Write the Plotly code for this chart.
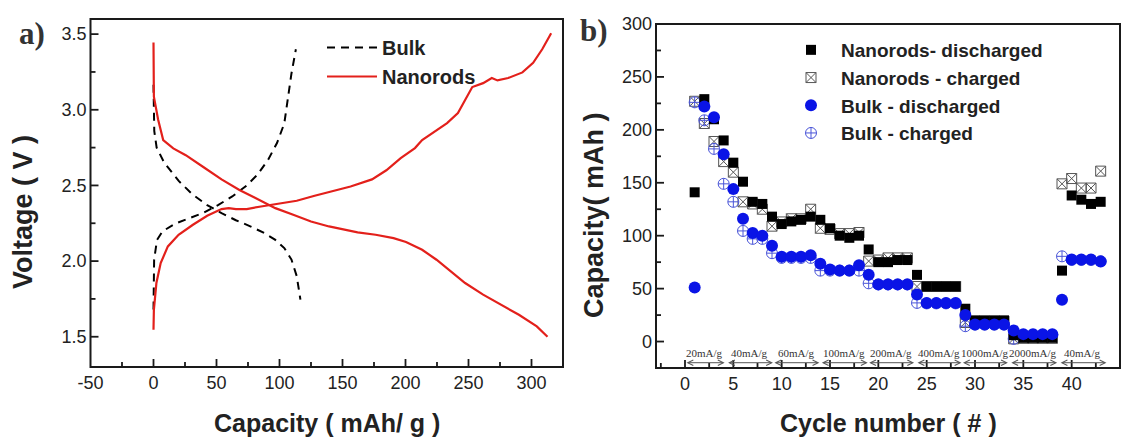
import plotly.graph_objects as go

# ---------------- Panel a data: voltage profiles ----------------
bulk_dis_cap = [0, 0.2, 0.6, 2.5, 8.5, 20, 31, 42.6, 54, 65.4, 76.8, 88, 96.7, 103.8, 109.5, 113.7, 116.6]
bulk_dis_v = [3.165, 3.0, 2.86, 2.75, 2.65, 2.53, 2.44, 2.37, 2.317, 2.27, 2.23, 2.185, 2.14, 2.086, 2.01, 1.90, 1.745]
bulk_chg_cap = [0, 0.5, 2.8, 7.1, 17, 28.4, 39.8, 51.2, 62.5, 74, 82.4, 91, 98, 103.8, 106.6, 109.5, 113]
bulk_chg_v = [1.68, 2.01, 2.14, 2.196, 2.247, 2.284, 2.32, 2.37, 2.427, 2.50, 2.57, 2.67, 2.78, 2.91, 3.066, 3.24, 3.40]

nano_dis_cap = [0, 0.3, 3.7, 7.7, 15.7, 25.6, 39.8, 54, 68.2, 82.4, 96.7, 110.9, 125, 139.3, 150.7, 162,
                176.3, 190.5, 200.4, 213.2, 224.6, 236, 247.3, 261.6, 275.8, 290, 304.2, 312.7]
nano_dis_v = [3.445, 3.087, 2.934, 2.80, 2.745, 2.70, 2.62, 2.54, 2.47, 2.41, 2.35, 2.306, 2.262, 2.229, 2.207, 2.19,
              2.174, 2.152, 2.126, 2.075, 2.009, 1.932, 1.855, 1.778, 1.711, 1.645, 1.568, 1.50]
nano_chg_cap = [0, 0.3, 2.3, 5.7, 11.4, 19.9, 31.3, 42.6, 54, 59.7, 65.4, 74, 85.3, 99.5, 113.7, 127.9, 142, 156.4,
                173.4, 184.8, 196.2, 207.5, 213.2, 221.7, 233, 241.6, 247.3, 253, 261.6, 266.7, 268.5, 273, 281.5,
                292.8, 301.3, 308.5, 315.6]
nano_chg_v = [1.546, 1.678, 1.855, 1.987, 2.097, 2.174, 2.24, 2.30, 2.344, 2.35, 2.344, 2.344, 2.361, 2.379, 2.399,
              2.432, 2.46, 2.493, 2.54, 2.60, 2.68, 2.747, 2.80, 2.85, 2.912, 2.978, 3.066, 3.15, 3.176, 3.198, 3.21,
              3.194, 3.21, 3.247, 3.31, 3.40, 3.506]

# tick values / labels, panel a
cap_ticks = [-50, 0, 50, 100, 150, 200, 250, 300]
cap_tick_text = ["-50", "0", "50", "100", "150", "200", "250", "300"]
cap_minor = [-25, 25, 75, 125, 175, 225, 275]
volt_ticks = [1.5, 2.0, 2.5, 3.0, 3.5]
volt_minor = [1.75, 2.25, 2.75, 3.25]

# ---------------- Panel b data: rate capability ----------------
cycles = list(range(1, 44))
nano_discharged = [141, 229, 210, 190, 169, 151, 132, 130, 118, 111, 113.5, 115, 118, 115, 107, 100, 98, 100, 87,
                   75, 75, 77, 77, 63, 52, 52, 52, 52, 31, 20, 20, 20, 20, 6, 3.5, 3.5, 3.5, 3.5, 67, 138, 134, 130, 132]
nano_charged = [227, 206, 189, 170, 160, 132, 130, 125, 109, 113, 116, 116, 125, 107, 106, 102, 102, 103, 76,
                77, 79, 79, 79, 52, 52, 52, 52, 52, 18, 19, 19, 19, 19, 2.5, 3, 3, 3, 3, 149, 154, 145, 145, 161]
bulk_discharged = [51, 222, 212, 177, 144, 116, 102.5, 100, 90.5, 80, 80, 80, 81.5, 73.5, 68, 67, 67, 72, 63,
                   54, 54, 54, 54, 44.5, 36.5, 36.5, 36.5, 36.5, 25, 16, 16, 16, 16, 10.5, 7, 7, 7, 7, 39.5, 77.5, 77.5, 77.5, 75.5]
bulk_charged = [226, 209, 182, 149, 132, 104.5, 97, 97, 83.5, 79, 79, 79, 79, 67, 67, 67, 67, 67, 55,
                54, 54, 54, 54, 36.5, 36, 36, 36, 36, 14.5, 16, 16, 16, 16, 2.5, 6, 6, 6, 6, 80.5, 77, 77, 77, 76]

cycle_ticks = [0, 5, 10, 15, 20, 25, 30, 35, 40, 45]
cycle_minor = [-2.5, 2.5, 7.5, 12.5, 17.5, 22.5, 27.5, 32.5, 37.5, 42.5]
capb_ticks = [0, 50, 100, 150, 200, 250, 300]
capb_minor = [25, 75, 125, 175, 225, 275]

rate_labels = ["20mA/g", "40mA/g", "60mA/g", "100mA/g", "200mA/g", "400mA/g", "1000mA/g", "2000mA/g", "40mA/g"]
rate_start = [0, 4.3, 9.1, 14.0, 18.9, 23.9, 28.6, 33.6, 38.7]
rate_end = [4.1, 9.1, 13.9, 18.9, 23.7, 28.6, 33.4, 38.5, 43.6]

FONT = "Liberation Sans, Arial, sans-serif"
SERIF = "Liberation Serif, Times New Roman, serif"
W, H = 1129, 437
AX = "#1a1a1a"

# subplot boxes (paper fractions)
A_X = [90.5 / W, 563 / W]
A_Y = [1 - 367 / H, 1 - 19 / H]
B_X = [656 / W, 1120 / W]
B_Y = [1 - 368 / H, 1 - 24 / H]

fig = go.Figure()

fig.add_trace(go.Scatter(
    x=bulk_dis_cap + [None] + bulk_chg_cap, y=bulk_dis_v + [None] + bulk_chg_v,
    mode="lines", name="Bulk", line=dict(color="black", width=2, dash="8px,6px"),
    xaxis="x", yaxis="y", legend="legend", connectgaps=False))
fig.add_trace(go.Scatter(
    x=nano_dis_cap + [None] + nano_chg_cap, y=nano_dis_v + [None] + nano_chg_v,
    mode="lines", name="Nanorods", line=dict(color="#e3201b", width=2.2),
    xaxis="x", yaxis="y", legend="legend", connectgaps=False))

fig.add_trace(go.Scatter(
    x=cycles, y=nano_charged, mode="markers", name="Nanorods - charged",
    marker=dict(symbol="square-x-open", size=10, color="#555555", line=dict(width=1)),
    xaxis="x2", yaxis="y2", legend="legend2", legendrank=2))
fig.add_trace(go.Scatter(
    x=cycles, y=bulk_charged, mode="markers", name="Bulk - charged",
    marker=dict(symbol="circle-cross-open", size=11, color="#4a55d8", line=dict(width=1)),
    xaxis="x2", yaxis="y2", legend="legend2", legendrank=4))
fig.add_trace(go.Scatter(
    x=cycles, y=nano_discharged, mode="markers", name="Nanorods- discharged",
    marker=dict(symbol="square", size=10, color="black"),
    xaxis="x2", yaxis="y2", legend="legend2", legendrank=1))
fig.add_trace(go.Scatter(
    x=cycles, y=bulk_discharged, mode="markers", name="Bulk - discharged",
    marker=dict(symbol="circle", size=12, color="#0a14e6"),
    xaxis="x2", yaxis="y2", legend="legend2", legendrank=3))

axis_common = dict(showline=False, mirror=False, showgrid=False, zeroline=False, ticks="",
                   tickfont=dict(family=FONT, size=18, color="#222"),
                   tickprefix="<b>", ticksuffix="</b>", automargin=False, ticklabelstandoff=3)

# ---- frame (paper coords) and tick marks (axis coords along, paper across) ----
shapes = []
def frame(bx, by):
    shapes.append(dict(type="rect", xref="paper", yref="paper", x0=bx[0], x1=bx[1], y0=by[0], y1=by[1],
                       line=dict(color=AX, width=2), fillcolor="rgba(0,0,0,0)", layer="above"))

def xticks(xa, by, vals, length, lo, hi):
    for v in vals:
        if lo < v < hi:
            shapes.append(dict(type="line", xref=xa, yref="paper", x0=v, x1=v,
                               y0=by[0], y1=by[0] + length / H,
                               line=dict(color=AX, width=1.8), layer="above"))

def yticks(ya, bx, vals, length, lo, hi):
    for v in vals:
        if lo < v < hi:
            shapes.append(dict(type="line", yref=ya, xref="paper", y0=v, y1=v,
                               x0=bx[0], x1=bx[0] + length / W,
                               line=dict(color=AX, width=1.8), layer="above"))

frame(A_X, A_Y)
xticks("x", A_Y, cap_ticks, 8, -50, 325)
xticks("x", A_Y, cap_minor, 5, -50, 325)
yticks("y", A_X, volt_ticks, 8, 1.3, 3.6)
yticks("y", A_X, volt_minor, 5, 1.3, 3.6)
frame(B_X, B_Y)
xticks("x2", B_Y, cycle_ticks, 8, -3, 45)
xticks("x2", B_Y, cycle_minor, 5, -3, 45)
yticks("y2", B_X, capb_ticks, 8, -25, 300)
yticks("y2", B_X, capb_minor, 5, -25, 300)

annotations = []
for lab, s, e in zip(rate_labels, rate_start, rate_end):
    annotations.append(dict(x=e, y=-20, ax=s, ay=-20, xref="x2", yref="y2", axref="x2", ayref="y2",
                            text="", showarrow=True, arrowside="end+start", arrowhead=5,
                            arrowsize=1.1, arrowwidth=1, arrowcolor="#555"))
    annotations.append(dict(x=(s + e) / 2, y=-11, xref="x2", yref="y2", text=lab, showarrow=False,
                            xanchor="center", font=dict(family=SERIF, size=11, color="#333")))

def title(x, y, text, size, angle=0, family=FONT, color="#222"):
    return dict(x=x / W, y=1 - y / H, xref="paper", yref="paper", text="<b>" + text + "</b>", textangle=angle,
                xanchor="center", yanchor="middle", showarrow=False,
                font=dict(family=family, size=size, color=color))

annotations += [
    title(23, 212, "Voltage ( V )", 27, -90),
    title(327, 423, "Capacity ( mAh/ g )", 25),
    title(594, 215, "Capacity( mAh )", 27, -90),
    title(888, 423, "Cycle number ( # )", 25),
    title(32, 34, "a)", 31, family=SERIF, color="#333"),
    title(594, 31, "b)", 31, family=SERIF, color="#333"),
]

fig.update_layout(
    template="none",
    width=W, height=H, paper_bgcolor="white", plot_bgcolor="white",
    margin=dict(l=0, r=0, t=0, b=0, pad=0, autoexpand=False),
    xaxis=dict(domain=A_X, range=[-50, 325], tickvals=cap_ticks, ticktext=cap_tick_text,
               anchor="y", **axis_common),
    yaxis=dict(domain=A_Y, range=[1.3, 3.6], tickvals=volt_ticks, tickformat=".1f",
               anchor="x", **axis_common),
    xaxis2=dict(domain=B_X, range=[-3, 45], tickvals=cycle_ticks, anchor="y2", **axis_common),
    yaxis2=dict(domain=B_Y, range=[-25, 300], tickvals=capb_ticks, anchor="x2", **axis_common),
    legend=dict(x=322 / W, y=1 - 28 / H, xanchor="left", yanchor="top", bgcolor="rgba(0,0,0,0)",
                font=dict(family=FONT, size=20, color="#222", weight="bold"), tracegroupgap=0,
                itemwidth=50),
    legend2=dict(x=781 / W, y=1 - 31 / H, xanchor="left", yanchor="top", bgcolor="rgba(0,0,0,0)",
                 font=dict(family=FONT, size=19, color="#222", weight="bold"), tracegroupgap=0,
                 traceorder="normal", itemwidth=50),
    shapes=shapes,
    annotations=annotations,
    showlegend=True,
)

fig.write_html("out.html", post_script="document.body.style.margin='0px';",
               config={"displayModeBar": False})
